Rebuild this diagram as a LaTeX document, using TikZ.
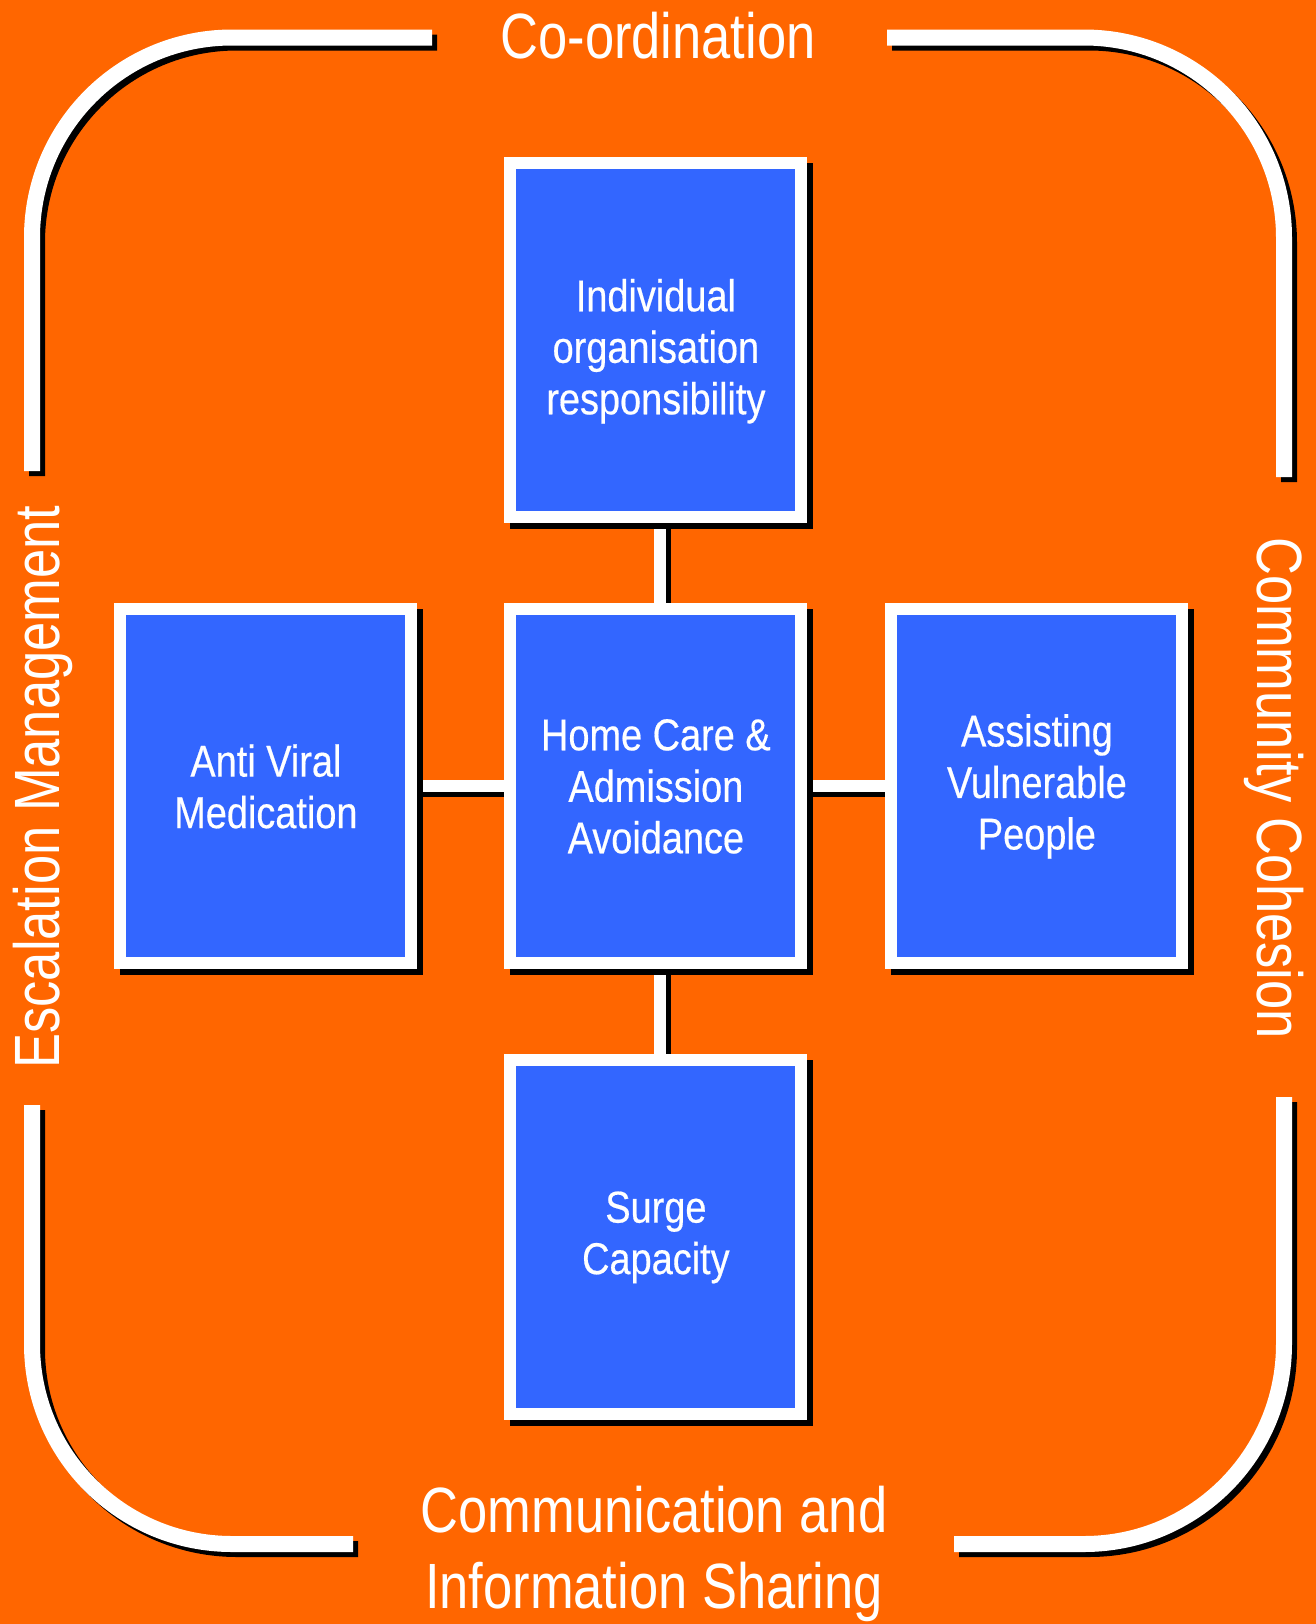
\documentclass[tikz,border=0pt]{standalone}
\usepackage{fontspec}
\newfontfamily\boxfont[FakeStretch=0.85, FakeBold=0.4]{Liberation Sans}
\newfontfamily\rimfont[FakeStretch=0.82]{Liberation Sans}
\usetikzlibrary{matrix,backgrounds}
\definecolor{plan orange}{HTML}{FF6600}
\definecolor{plan blue}{HTML}{3366FF}

\begin{document}
\begin{tikzpicture}[x=0.5pt, y=-0.5pt,
  task/.style={draw=white, fill=plan blue, line width=6pt, inner sep=0pt,
    minimum width=145.5pt, minimum height=177pt, align=center, text=white,
    font={\boxfont\fontsize{22.3pt}{25.75pt}\selectfont},
    preaction={draw=black, fill=black, transform canvas={shift={(3pt,-3pt)}}}},
  link/.style={draw=white, line width=6pt,
    preaction={draw=black, line width=6pt, transform canvas={shift={(2.5pt,-2.5pt)}}}},
  rim/.style={draw=white, line width=8pt, rounded corners=100pt,
    preaction={draw=black, line width=8pt, transform canvas={shift={(2.5pt,-2.5pt)}}}},
  rim label/.style={text=white, inner sep=0pt,
    font={\rimfont\fontsize{32pt}{38pt}\selectfont}}]

  \useasboundingbox (0,0) rectangle (1316,1624);

  \matrix (m) [row sep=40pt, column sep=39pt, inner sep=0pt, anchor=north west] at (114,157)
  %
  { &[4.5pt] \node [task] (indiv) {\rule{0pt}{27pt}Individual\\organisation\\responsibility}; & \\
    \node [task] (viral) {Anti Viral\\Medication}; &[4.5pt]
    \node [task] (home) {Home Care \&\\Admission\\Avoidance}; &
    \node [task] (assist) {Assisting\\Vulnerable\\People}; \\[2.5pt]
    &[4.5pt] \node [task] (surge) {Surge\\Capacity}; & \\ };

  \begin{scope}[on background layer]
    \fill [plan orange] (0,0) rectangle (1316,1624);
    \path ([xshift=2pt]indiv.south) edge [link] ([xshift=2pt]home.north) ;
    \path ([xshift=2pt]home.south) edge [link] ([xshift=2pt]surge.north) ;
    \path (viral) edge [link] (home) ;
    \path (home) edge [link] (assist) ;
  \end{scope}

  \draw [rim] (432,37.5) -- (32,37.5) -- (32,471) ;
  \draw [rim] (32,1105) -- (32,1544) -- (353,1544) ;
  \draw [rim] (954,1544) -- (1284,1544) -- (1284,1097) ;
  \draw [rim] (1284,477) -- (1284,37.5) -- (887,37.5) ;

  \node [rim label, anchor=base] (coord) at (658,58) {Co-ordination} ;
  \node [rim label, align=center] (comm) at (654,1554) {Communication and\\Information Sharing} ;
  \node [rim label, anchor=base, rotate=90] (escal) at (59,787) {Escalation Management} ;
  \node [rim label, anchor=base, rotate=-90] (cohes) at (1257,788) {Community Cohesion} ;

\end{tikzpicture}
\end{document}
